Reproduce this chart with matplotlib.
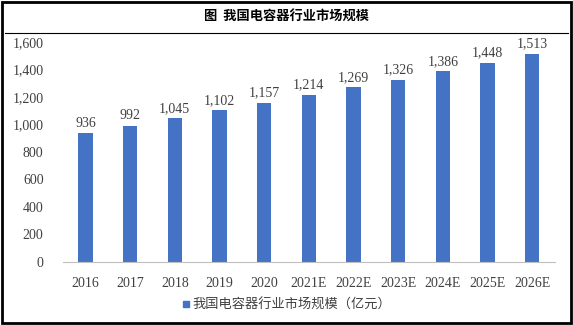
import matplotlib.pyplot as plt
from matplotlib.patches import Rectangle
from matplotlib.lines import Line2D

years = ['2016', '2017', '2018', '2019', '2020', '2021E', '2022E', '2023E', '2024E', '2025E', '2026E']
market_size = [936, 992, 1045, 1102, 1157, 1214, 1269, 1326, 1386, 1448, 1513]

plt.rcParams['font.family'] = ['Liberation Serif', 'Noto Sans CJK SC']

fig = plt.figure(figsize=(5.73, 3.25), dpi=100)
ax = fig.add_axes([0.11, 0.194, 0.858, 0.677])

bar_color = '#4472C4'
bars = ax.bar(years, market_size, width=0.32, color=bar_color,
              label='我国电容器行业市场规模（亿元）')
for b, v in zip(bars, market_size):
    ax.text(b.get_x() + b.get_width() / 2, v + 25, f'{v:,}',
            ha='center', va='bottom', fontsize=10, color='#404040')

ax.set_ylim(0, 1600)
ax.set_yticks(range(0, 1601, 200))
ax.set_yticklabels([f'{t:,}' for t in range(0, 1601, 200)])
ax.set_xlim(-0.5, len(years) - 0.5)
for s in ['top', 'right', 'left']:
    ax.spines[s].set_visible(False)
ax.spines['bottom'].set_color('#BFBFBF')
ax.tick_params(axis='both', length=0, labelsize=10, colors='#404040')
ax.tick_params(axis='y', pad=14)
ax.tick_params(axis='x', pad=11)

leg = fig.legend(handles=[Line2D([], [], marker='s', linestyle='', color=bar_color, markersize=5)],
                 labels=['我国电容器行业市场规模（亿元）'],
                 loc='center', bbox_to_anchor=(0.5, 0.062), frameon=False,
                 handlelength=0.6, handletextpad=0.2,
                 prop={'family': ['Noto Sans CJK SC'], 'size': 9.5})
for t in leg.get_texts():
    t.set_color('#404040')

# title bar and frame
fig.text(0.5, 0.948, '图  我国电容器行业市场规模', ha='center', va='center',
         fontsize=9.5, fontweight='bold', family=['Noto Sans CJK SC'])
fig.add_artist(Line2D([0.008, 0.992], [0.898, 0.898], transform=fig.transFigure,
                      color='black', linewidth=0.8))
fig.add_artist(Rectangle((0.004, 0.006), 0.992, 0.988, transform=fig.transFigure,
                         fill=False, edgecolor='black', linewidth=2))

fig.savefig('out.png', dpi=100)
